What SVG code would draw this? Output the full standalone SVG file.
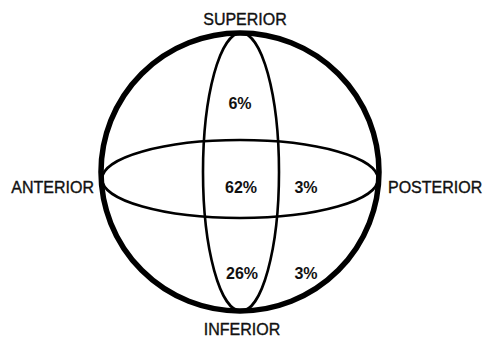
<svg xmlns="http://www.w3.org/2000/svg" width="484" height="342" viewBox="0 0 484 342">
<style>
.lbl{font-family:"Liberation Sans",Arial,sans-serif;font-size:16px;fill:#111;stroke:#111;stroke-width:0.35}
.pct{font-family:"Liberation Sans",Arial,sans-serif;font-size:16px;font-weight:bold;fill:#111;text-anchor:middle}
.thin{fill:none;stroke:#000;stroke-width:2.6}
</style>
<rect width="484" height="342" fill="#fff"/>
<g id="connectors">
<ellipse class="thin" cx="241" cy="172" rx="38" ry="139"/>
<ellipse class="thin" cx="240" cy="179" rx="138" ry="39"/>
</g>
<g id="sphere"><circle cx="240" cy="172" r="139" fill="none" stroke="#000" stroke-width="5.5"/></g>
<g id="superior"><text class="lbl" x="245" y="25" text-anchor="middle">SUPERIOR</text></g>
<g id="inferior"><text class="lbl" x="242" y="335" text-anchor="middle">INFERIOR</text></g>
<g id="anterior"><text class="lbl" x="94" y="193" text-anchor="end">ANTERIOR</text></g>
<g id="posterior"><text class="lbl" x="388" y="193">POSTERIOR</text></g>
<g id="p6"><text class="pct" x="240" y="109">6%</text></g>
<g id="p62"><text class="pct" x="241" y="193">62%</text></g>
<g id="p3a"><text class="pct" x="306" y="193">3%</text></g>
<g id="p26"><text class="pct" x="242" y="279">26%</text></g>
<g id="p3b"><text class="pct" x="306" y="279">3%</text></g>
</svg>
